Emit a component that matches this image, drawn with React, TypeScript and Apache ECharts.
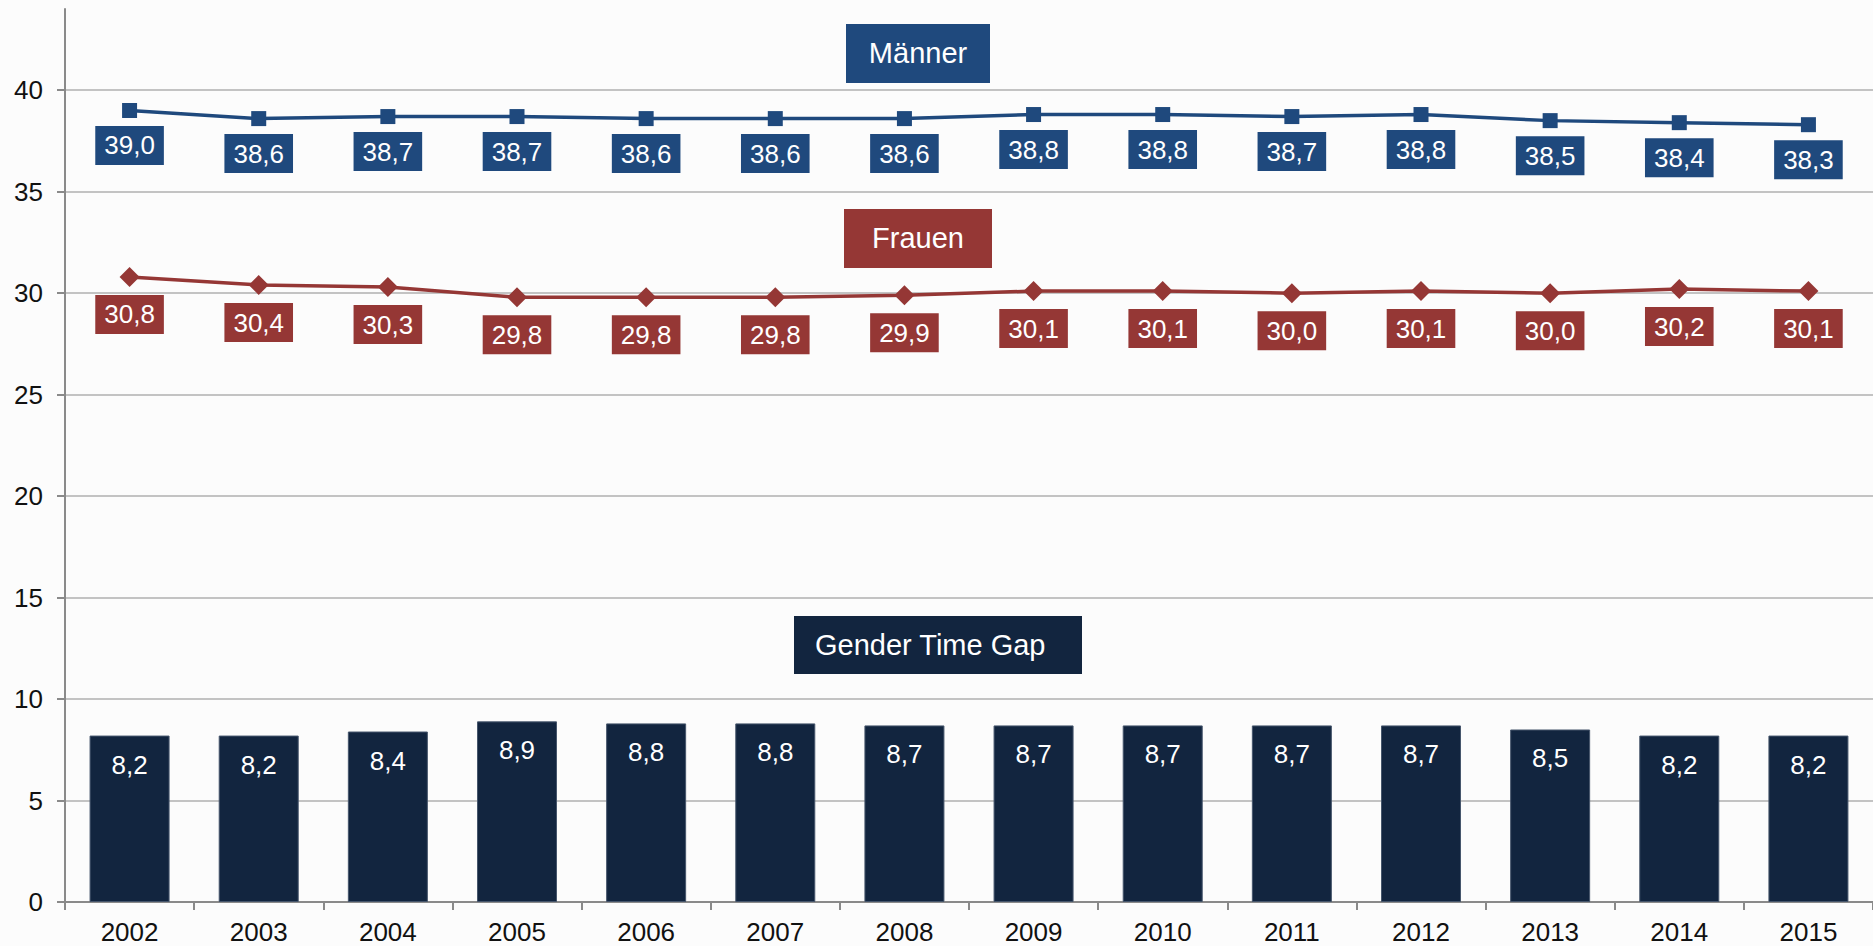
import React, { useEffect, useRef } from 'react';
import * as echarts from 'echarts';

const years = ['2002', '2003', '2004', '2005', '2006', '2007', '2008', '2009', '2010', '2011', '2012', '2013', '2014', '2015'];
const maenner = [39.0, 38.6, 38.7, 38.7, 38.6, 38.6, 38.6, 38.8, 38.8, 38.7, 38.8, 38.5, 38.4, 38.3];
const frauen = [30.8, 30.4, 30.3, 29.8, 29.8, 29.8, 29.9, 30.1, 30.1, 30.0, 30.1, 30.0, 30.2, 30.1];
const gap = [8.2, 8.2, 8.4, 8.9, 8.8, 8.8, 8.7, 8.7, 8.7, 8.7, 8.7, 8.5, 8.2, 8.2];
const yTicks = [0, 5, 10, 15, 20, 25, 30, 35, 40];

const BLUE = '#1F497D';
const RED = '#953735';
const NAVY = '#12253F';
const FONT = '"Liberation Sans", Arial, Helvetica, sans-serif';

const fmt = (v: number) => v.toFixed(1).replace('.', ',');

export default function App() {
  const ref = useRef<HTMLDivElement>(null);
  useEffect(() => {
    if (!ref.current) return;
    const chart = echarts.init(ref.current, undefined, { renderer: 'svg' });
    const lineLabel = (color: string) => ({
      show: true,
      position: 'bottom',
      distance: 8,
      backgroundColor: color,
      color: '#fff',
      fontSize: 26,
      fontFamily: FONT,
      lineHeight: 29,
      padding: [5, 9, 5, 9],
      formatter: (p: any) => fmt(p.value),
    });
    chart.setOption({
      animation: false,
      backgroundColor: '#FCFCFC',
      textStyle: { fontFamily: FONT },
      grid: { left: 65, top: 9, width: 1810, height: 893, containLabel: false },
      xAxis: {
        type: 'category',
        data: years,
        axisLine: { show: true, lineStyle: { color: '#8A8A8A', width: 2 } },
        axisTick: { show: true, length: 8, lineStyle: { color: '#8A8A8A', width: 2 } },
        axisLabel: { fontSize: 26, color: '#111', margin: 17, fontFamily: FONT },
        splitLine: { show: false },
      },
      yAxis: {
        type: 'value',
        min: 0,
        max: 44,
        interval: 5,
        axisLine: { show: true, lineStyle: { color: '#8A8A8A', width: 2 } },
        axisTick: { show: true, length: 8, lineStyle: { color: '#8A8A8A', width: 2 }, customValues: yTicks },
        axisLabel: { fontSize: 26, color: '#111', margin: 22, fontFamily: FONT, customValues: yTicks },
        splitLine: { show: true, lineStyle: { color: '#C3C3C3', width: 2 } },
      },
      series: [
        {
          name: 'Gender Time Gap',
          type: 'bar',
          data: gap,
          barWidth: 80,
          itemStyle: { color: NAVY, borderColor: '#46566c', borderWidth: 1 },
          label: {
            show: true,
            position: 'insideTop',
            distance: 16,
            color: '#fff',
            fontSize: 26,
            fontFamily: FONT,
            formatter: (p: any) => fmt(p.value),
          },
          z: 2,
        },
        {
          name: 'Männer',
          type: 'line',
          data: maenner,
          symbol: 'rect',
          symbolSize: 15,
          lineStyle: { color: BLUE, width: 3.5 },
          itemStyle: { color: BLUE },
          label: lineLabel(BLUE),
          z: 3,
        },
        {
          name: 'Frauen',
          type: 'line',
          data: frauen,
          symbol: 'diamond',
          symbolSize: 20,
          lineStyle: { color: RED, width: 3.5 },
          itemStyle: { color: RED },
          label: lineLabel(RED),
          z: 3,
        },
      ],
      graphic: [
        { type: 'rect', left: 846, top: 24, shape: { width: 144, height: 59 }, style: { fill: BLUE }, z: 10 },
        { type: 'text', x: 918, y: 53, style: { text: 'Männer', fill: '#fff', fontSize: 29, fontFamily: FONT, align: 'center', verticalAlign: 'middle' }, z: 11 },
        { type: 'rect', left: 844, top: 209, shape: { width: 148, height: 59 }, style: { fill: RED }, z: 10 },
        { type: 'text', x: 918, y: 238, style: { text: 'Frauen', fill: '#fff', fontSize: 29, fontFamily: FONT, align: 'center', verticalAlign: 'middle' }, z: 11 },
        { type: 'rect', left: 794, top: 616, shape: { width: 288, height: 58 }, style: { fill: NAVY }, z: 10 },
        { type: 'text', x: 815, y: 645, style: { text: 'Gender Time Gap', fill: '#fff', fontSize: 29, fontFamily: FONT, align: 'left', verticalAlign: 'middle' }, z: 11 },
      ],
    });
    return () => chart.dispose();
  }, []);
  return <div ref={ref} style={{ position: 'fixed', left: 0, top: 0, width: 1873, height: 946 }} />;
}
